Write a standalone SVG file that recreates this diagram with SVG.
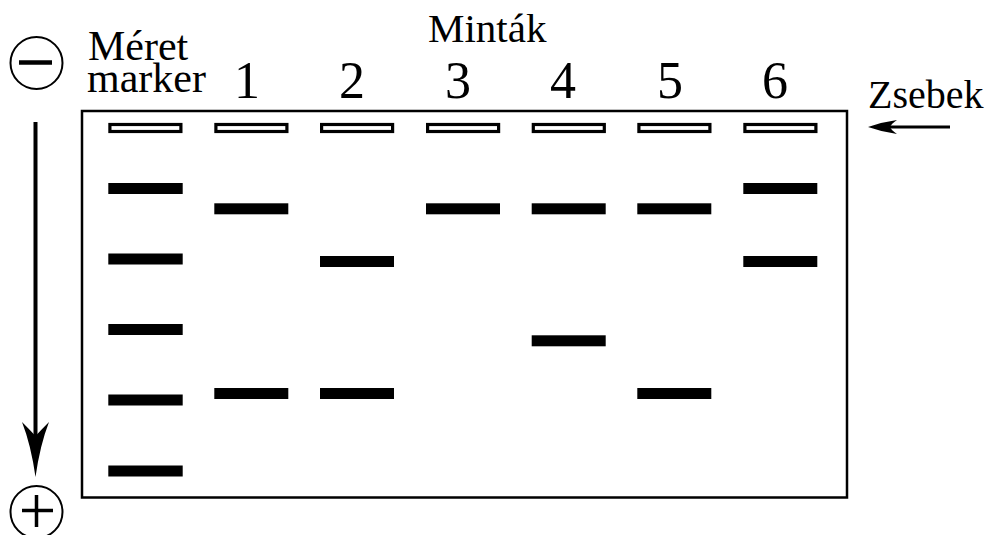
<svg xmlns="http://www.w3.org/2000/svg" width="996" height="535" viewBox="0 0 996 535">
<style>
.t{font-family:"Liberation Serif","Times New Roman",serif;fill:#000}
.well{fill:#fff;stroke:#000;stroke-width:3.2}
.band{fill:#000}
.gel{fill:#fff;stroke:#000;stroke-width:2.5}
.ln{stroke:#000;fill:none}
</style>
<rect width="996" height="535" fill="#fff"/>
<g id="gel">
<rect class="gel" x="82" y="111" width="765" height="386.5"/>
</g>
<g id="labels">
<text class="t" x="428" y="42" font-size="41">Minták</text>
<text class="t" x="88" y="60" font-size="42">Méret</text>
<text class="t" x="87" y="92" font-size="42">marker</text>
<text class="t" x="868" y="108" font-size="40">Zsebek</text>
</g>
<g id="lane-numbers" class="t" font-size="52" text-anchor="middle">
<text x="247" y="98">1</text>
<text x="352" y="98">2</text>
<text x="458" y="98">3</text>
<text x="563" y="98">4</text>
<text x="670" y="98">5</text>
<text x="775" y="98">6</text>
</g>
<g id="wells">
<rect class="well" x="109.9" y="124.5" width="71" height="7"/>
<rect class="well" x="215.9" y="124.5" width="71" height="7"/>
<rect class="well" x="321.6" y="124.5" width="71" height="7"/>
<rect class="well" x="427.6" y="124.5" width="71" height="7"/>
<rect class="well" x="533.3" y="124.5" width="71" height="7"/>
<rect class="well" x="638.9" y="124.5" width="71" height="7"/>
<rect class="well" x="744.9" y="124.5" width="71" height="7"/>
</g>
<g id="marker-lane">
<rect class="band" x="108.3" y="183" width="74.4" height="11"/>
<rect class="band" x="108.3" y="253.5" width="74.4" height="11"/>
<rect class="band" x="108.3" y="324" width="74.4" height="11"/>
<rect class="band" x="108.3" y="394.5" width="74.4" height="11"/>
<rect class="band" x="108.3" y="465.5" width="74.4" height="11"/>
</g>
<g id="lane1">
<rect class="band" x="214.3" y="203.3" width="74" height="11"/>
<rect class="band" x="214.3" y="388" width="74" height="11"/>
</g>
<g id="lane2">
<rect class="band" x="320" y="256" width="74" height="11"/>
<rect class="band" x="320" y="388" width="74" height="11"/>
</g>
<g id="lane3">
<rect class="band" x="426" y="203.3" width="74" height="11"/>
</g>
<g id="lane4">
<rect class="band" x="531.7" y="203.3" width="74" height="11"/>
<rect class="band" x="531.7" y="335.3" width="74" height="11"/>
</g>
<g id="lane5">
<rect class="band" x="637.3" y="203.3" width="74" height="11"/>
<rect class="band" x="637.3" y="388" width="74" height="11"/>
</g>
<g id="lane6">
<rect class="band" x="743.3" y="183" width="74" height="11"/>
<rect class="band" x="743.3" y="256" width="74" height="11"/>
</g>
<g id="minus">
<circle class="ln" cx="36.5" cy="63" r="26" stroke-width="2"/>
<line class="ln" x1="19" y1="62.5" x2="52" y2="62.5" stroke-width="4.5"/>
</g>
<g id="plus">
<circle class="ln" cx="36.5" cy="512" r="26" stroke-width="2"/>
<line class="ln" x1="22" y1="510.5" x2="53" y2="510.5" stroke-width="3.5"/>
<line class="ln" x1="36.5" y1="495" x2="36.5" y2="527" stroke-width="3.5"/>
</g>
<g id="connectors">
<line class="ln" x1="35.5" y1="122" x2="35.5" y2="440" stroke-width="4"/>
<path d="M35.5 477 Q31 445 22 422 Q30 430 35.5 436 Q41 430 49 422 Q40 445 35.5 477 Z" fill="#000"/>
<line class="ln" x1="885" y1="127" x2="950" y2="127" stroke-width="3"/>
<path d="M868 127 Q882 122 897 120 Q891 124 890 127 Q891 130 897 134 Q882 132 868 127 Z" fill="#000"/>
</g>
</svg>
